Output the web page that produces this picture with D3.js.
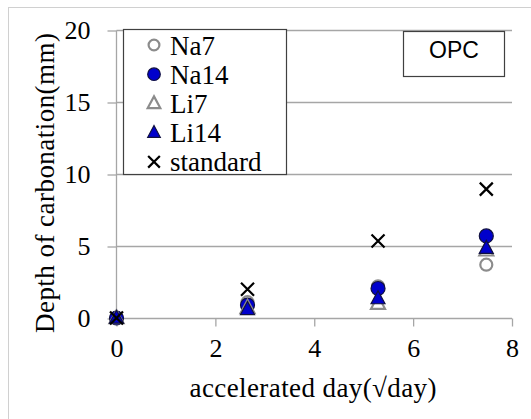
<!DOCTYPE html>
<html><head><meta charset="utf-8">
<script src="https://cdn.jsdelivr.net/npm/d3@7"></script>
</head><body style="margin:0"><svg id="c" width="531" height="419"></svg>
<script>
const days = [0, 2.65, 5.29, 7.48];
const na7 = [0, 1.1, 2.2, 3.7];
const na14 = [0, 0.9, 2.05, 5.7];
const li7 = [0, 0.7, 1.0, 4.7];
const li14 = [0, 0.6, 1.35, 4.85];
const standard = [0, 2.0, 5.35, 8.95];
const xTicks = [0, 2, 4, 6, 8];
const yTicks = [0, 5, 10, 15, 20];
const seriesNames = ["Na7", "Na14", "Li7", "Li14", "standard"];
const seriesValues = [na7, na14, li7, li14, standard];

const FONT = "Tinos, Liberation Serif, Times New Roman, serif";
const svg = d3.select("#c");
svg.append("rect").attr("x", 8.5).attr("y", 7.5).attr("width", 540).attr("height", 430)
  .attr("fill", "none").attr("stroke", "#d0d0d0").attr("stroke-width", 1);

const x = d3.scaleLinear().domain([0, 8]).range([116.5, 512]);
const y = d3.scaleLinear().domain([0, 20]).range([318, 30]);

svg.append("g").selectAll("line").data(yTicks.filter(d => d > 0)).join("line")
  .attr("x1", x(0)).attr("x2", x(8)).attr("y1", d => y(d) + 0.5).attr("y2", d => y(d) + 0.5)
  .attr("stroke", "#a6a6a6").attr("stroke-width", 1.3);

const ya = svg.append("g").attr("transform", `translate(${x(0)},0.5)`)
  .call(d3.axisLeft(y).tickValues(yTicks).tickSize(9).tickPadding(17).tickFormat(d3.format("d")));
ya.attr("font-family", null).attr("font-size", null);
ya.select(".domain").attr("stroke", "#a6a6a6").attr("stroke-width", 1.3).attr("d", `M0,${y(20)}V${y(0)}`);
ya.selectAll(".tick line").attr("stroke", "#a6a6a6").attr("stroke-width", 1.3);
ya.selectAll("text").style("font-family", FONT).attr("font-size", 26).attr("fill", "#000");

const xa = svg.append("g").attr("transform", `translate(0,${y(0) + 0.5})`)
  .call(d3.axisBottom(x).tickValues(xTicks).tickSize(8).tickPadding(12).tickFormat(d3.format("d")));
xa.attr("font-family", null).attr("font-size", null);
xa.select(".domain").attr("stroke", "#a6a6a6").attr("stroke-width", 1.3).attr("d", `M${x(0)},0H${x(8)}`);
xa.selectAll(".tick line").attr("stroke", "#a6a6a6").attr("stroke-width", 1.3);
xa.selectAll("text").style("font-family", FONT).attr("font-size", 26).attr("fill", "#000");

svg.append("text").attr("x", 313).attr("y", 397).attr("text-anchor", "middle")
  .style("font-family", FONT).attr("font-size", 27).attr("textLength", 247).text("accelerated day(√day)");
svg.append("text").attr("transform", "translate(54,183) rotate(-90)").attr("text-anchor", "middle")
  .style("font-family", FONT).attr("font-size", 27).attr("textLength", 300).text("Depth of carbonation(mm)");

const blue = "#0000cc";
function drawMarker(g, type, cx, cy, s) {
  if (type === 0) g.append("circle").attr("cx", cx).attr("cy", cy).attr("r", 6 * s)
    .attr("fill", "#fff").attr("stroke", "#8c8c8c").attr("stroke-width", 2.2);
  else if (type === 1) g.append("circle").attr("cx", cx).attr("cy", cy).attr("r", 7 * s)
    .attr("fill", blue).attr("stroke", "#101040").attr("stroke-width", 1.2);
  else if (type === 2 || type === 3) {
    const h = 13 * s, w = 14 * s;
    g.append("path").attr("d", `M${cx},${cy - h * 0.6}L${cx + w / 2},${cy + h * 0.4}L${cx - w / 2},${cy + h * 0.4}Z`)
      .attr("fill", type === 2 ? "#fff" : blue).attr("stroke", type === 2 ? "#8c8c8c" : "#101040")
      .attr("stroke-width", type === 2 ? 2.2 : 1.2);
  } else {
    const a = 6.5 * s;
    g.append("path").attr("d", `M${cx - a},${cy - a}L${cx + a},${cy + a}M${cx + a},${cy - a}L${cx - a},${cy + a}`)
      .attr("stroke", "#000").attr("stroke-width", 2.2).attr("fill", "none");
  }
}

const pts = svg.append("g");
seriesValues.forEach((vals, i) => {
  vals.forEach((v, j) => drawMarker(pts, i, x(days[j]), y(v), 1));
});

const lg = svg.append("g");
lg.append("rect").attr("x", 123.5).attr("y", 29.5).attr("width", 163).attr("height", 145)
  .attr("fill", "#fff").attr("stroke", "#404040").attr("stroke-width", 1.2);
seriesNames.forEach((n, i) => {
  const cy = 45 + i * 29.2;
  drawMarker(lg, i, 154, cy, 0.9);
  lg.append("text").attr("x", 170).attr("y", cy + 9.5)
    .style("font-family", FONT).attr("font-size", 27).text(n);
});

svg.append("rect").attr("x", 403.5).attr("y", 31.5).attr("width", 101).attr("height", 45)
  .attr("fill", "#fff").attr("stroke", "#404040").attr("stroke-width", 1.2);
svg.append("text").attr("x", 454).attr("y", 58).attr("text-anchor", "middle")
  .style("font-family", "Liberation Sans").attr("font-size", 23).text("OPC");
</script></body></html>
